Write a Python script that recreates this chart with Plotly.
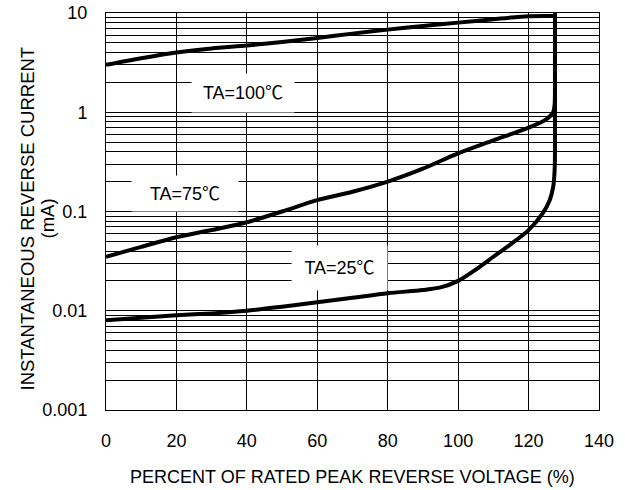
import math
import plotly.graph_objects as go

# ---- data ----
x_100 = [0, 10, 20, 30, 40, 50, 60, 70, 80, 90, 100, 110, 120, 125, 127.5]
y_100 = [3.0, 3.5, 4.0, 4.4, 4.7, 5.1, 5.6, 6.2, 6.8, 7.4, 8.0, 8.66, 9.3, 9.35, 9.35]

x_75 = [0, 10, 20, 30, 40, 50, 60, 70, 80, 90, 100, 110, 120, 125, 127, 127.4, 127.5, 127.5]
y_75 = [0.035, 0.044, 0.055, 0.065, 0.078, 0.1, 0.13, 0.158, 0.2, 0.27, 0.385, 0.52, 0.70, 0.85, 1.0, 1.2, 1.6, 10]

x_25 = [0, 10, 20, 30, 40, 50, 60, 70, 80, 90, 95, 100, 105, 110, 115, 120, 124, 126, 127, 127.4, 127.5, 127.5]
y_25 = [0.008, 0.0085, 0.009, 0.0094, 0.0100, 0.011, 0.0122, 0.0135, 0.015, 0.0162, 0.0172, 0.020, 0.026, 0.035, 0.047,
        0.065, 0.096, 0.13, 0.178, 0.26, 0.4, 10]

x_ticks = [0, 20, 40, 60, 80, 100, 120, 140]
y_major = [0.001, 0.01, 0.1, 1, 10]
y_major_text = ["0.001", "0.01", "0.1", "1", "10"]

labels = ["TA=100℃", "TA=75℃", "TA=25℃"]

FONT = "Liberation Sans, Arial, Noto Sans CJK SC, sans-serif"

# all log grid values (1..9 per decade)
y_grid = []
y_grid_text = []
for d in range(-3, 1):
    for m in range(1, 10):
        v = m * 10 ** d
        y_grid.append(v)
        y_grid_text.append(y_major_text[y_major.index(v)] if m == 1 else "")
y_grid.append(10)
y_grid_text.append("10")

fig = go.Figure()
for xs, ys in [(x_100, y_100), (x_75, y_75), (x_25, y_25)]:
    fig.add_trace(go.Scatter(x=xs, y=ys, mode="lines",
                             line=dict(color="black", width=4, shape="spline", smoothing=0.8),
                             showlegend=False, hoverinfo="skip"))

fig.update_layout(
    width=625, height=490,
    margin=dict(l=106, r=26, t=13, b=80, autoexpand=False),
    paper_bgcolor="white", plot_bgcolor="white",
    font=dict(family=FONT, size=18, color="black"),
    showlegend=False,
)
fig.update_xaxes(range=[0, 140], tickvals=x_ticks, ticktext=[str(v) for v in x_ticks],
                 showgrid=True, gridcolor="black", gridwidth=1, zeroline=False,
                 showline=True, linecolor="black", linewidth=1, mirror=True, automargin=False,
                 ticks="", ticklabelstandoff=14, tickfont=dict(size=18))
fig.update_yaxes(type="log", range=[-3, 1], tickvals=y_grid, ticktext=y_grid_text,
                 showgrid=True, gridcolor="black", gridwidth=1, zeroline=False,
                 showline=True, linecolor="black", linewidth=1, mirror=True, automargin=False,
                 ticks="", ticklabelstandoff=14, tickfont=dict(size=18))

# curve labels with white boxes covering grid lines
label_pos = [(38.9, math.log10(1.56), 100, 36), (22.3, math.log10(0.152), 104, 33), (66.2, math.log10(0.0267), 93, 42)]
for txt, (lx, ly, w, h) in zip(labels, label_pos):
    fig.add_annotation(x=lx, y=ly, xref="x", yref="y", text=txt, showarrow=False,
                       bgcolor="white", width=w, height=h, align="center", valign="middle",
                       font=dict(size=18))

fig.add_annotation(xref="paper", yref="paper", x=0.5, y=0, yanchor="middle",
                   yshift=-67, text="PERCENT OF RATED PEAK REVERSE VOLTAGE (%)",
                   showarrow=False, font=dict(size=18))
for txt, xs in [("INSTANTANEOUS REVERSE CURRENT", -79), ("(mA)", -59)]:
    fig.add_annotation(xref="paper", yref="paper", x=0, y=0.5, xanchor="center", yanchor="middle",
                       xshift=xs, yshift=-7, textangle=-90, text=txt,
                       showarrow=False, font=dict(size=18.5))

fig.write_html("out.html", config={"displayModeBar": False},
               post_script="document.body.style.margin='0';")
